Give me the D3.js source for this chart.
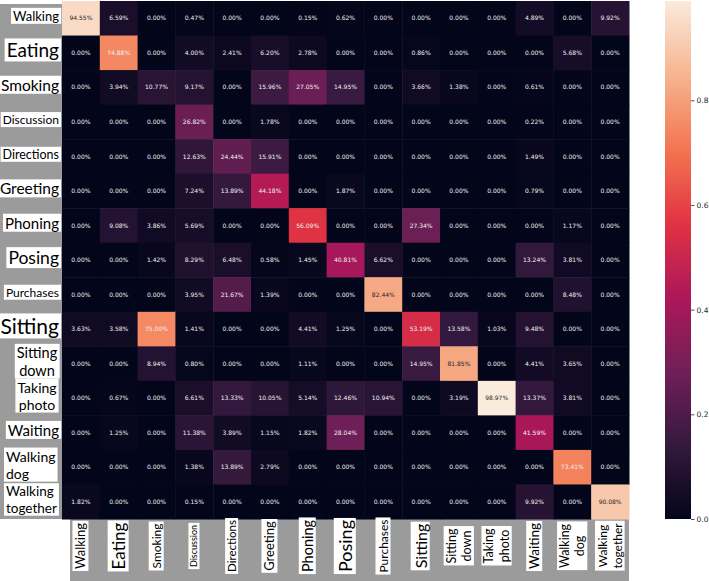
<!DOCTYPE html>
<html>
<head>
<meta charset="utf-8">
<title>Confusion matrix</title>
<script src="https://cdn.jsdelivr.net/npm/d3@7"></script>
<style>
  body { margin: 0; background: #fff; }
  svg { display: block; }
</style>
</head>
<body>
<svg id="chart" width="709" height="581"></svg>
<script>

// action classes, same order for rows (true) and columns (predicted)
const classes = ["Walking", "Eating", "Smoking", "Discussion", "Directions", "Greeting", "Phoning",
  "Posing", "Purchases", "Sitting", "Sitting down", "Taking photo", "Waiting", "Walking dog", "Walking together"];

// cell values in percent
const confusion = [
  [94.55, 6.59, 0.00, 0.47, 0.00, 0.00, 0.15, 0.62, 0.00, 0.00, 0.00, 0.00, 4.89, 0.00, 9.92],
  [0.00, 74.88, 0.00, 4.00, 2.41, 6.20, 2.78, 0.00, 0.00, 0.86, 0.00, 0.00, 0.00, 5.68, 0.00],
  [0.00, 3.94, 10.77, 9.17, 0.00, 15.96, 27.05, 14.95, 0.00, 3.66, 1.38, 0.00, 0.61, 0.00, 0.00],
  [0.00, 0.00, 0.00, 26.82, 0.00, 1.78, 0.00, 0.00, 0.00, 0.00, 0.00, 0.00, 0.22, 0.00, 0.00],
  [0.00, 0.00, 0.00, 12.63, 24.44, 15.91, 0.00, 0.00, 0.00, 0.00, 0.00, 0.00, 1.49, 0.00, 0.00],
  [0.00, 0.00, 0.00, 7.24, 13.89, 44.18, 0.00, 1.87, 0.00, 0.00, 0.00, 0.00, 0.79, 0.00, 0.00],
  [0.00, 9.08, 3.86, 5.69, 0.00, 0.00, 56.09, 0.00, 0.00, 27.34, 0.00, 0.00, 0.00, 1.17, 0.00],
  [0.00, 0.00, 1.42, 8.29, 6.48, 0.58, 1.45, 40.81, 6.62, 0.00, 0.00, 0.00, 13.24, 3.81, 0.00],
  [0.00, 0.00, 0.00, 3.95, 21.67, 1.39, 0.00, 0.00, 82.44, 0.00, 0.00, 0.00, 0.00, 8.48, 0.00],
  [3.63, 3.58, 75.00, 1.41, 0.00, 0.00, 4.41, 1.25, 0.00, 53.19, 13.58, 1.03, 9.48, 0.00, 0.00],
  [0.00, 0.00, 8.94, 0.80, 0.00, 0.00, 1.11, 0.00, 0.00, 14.95, 81.85, 0.00, 4.41, 3.65, 0.00],
  [0.00, 0.67, 0.00, 6.61, 13.33, 10.05, 5.14, 12.46, 10.94, 0.00, 3.19, 98.97, 13.37, 3.81, 0.00],
  [0.00, 1.25, 0.00, 11.38, 3.89, 1.15, 1.82, 28.04, 0.00, 0.00, 0.00, 0.00, 41.59, 0.00, 0.00],
  [0.00, 0.00, 0.00, 1.38, 13.89, 2.79, 0.00, 0.00, 0.00, 0.00, 0.00, 0.00, 0.00, 73.41, 0.00],
  [1.82, 0.00, 0.00, 0.15, 0.00, 0.00, 0.00, 0.00, 0.00, 0.00, 0.00, 0.00, 9.92, 0.00, 90.08]
];

const cbarTicks = [0.0, 0.2, 0.4, 0.6, 0.8];

// label look (the tick labels were pasted in by hand, every one a bit different)
const rowLabelSize  = [13, 19, 15.5, 12, 12.5, 15.5, 15, 17.5, 12, 21, 14.5, 14, 15, 14, 13.5];
const rowLabelAlign = ["end", "end", "end", "end", "end", "end", "end", "end", "end", "end",
  "middle", "middle", "end", "start", "start"];
const colLabelSize  = [13, 17, 12, 9, 11.5, 13, 14.5, 18, 12, 16, 12.5, 12.5, 13.5, 12.5, 12];

// seaborn "rocket"
const rocketStops = ["#03051a", "#35193e", "#701f57", "#ad1759", "#e13342", "#f37651", "#f6b48f", "#faebdd"];
const rocket = d3.scaleLinear()
  .domain(rocketStops.map((c, i) => i / (rocketStops.length - 1)))
  .range(rocketStops)
  .interpolate(d3.interpolateRgb)
  .clamp(true);

const svg = d3.select("#chart");
const hm = { left: 62, right: 629, top: 1, bottom: 519 };

const vmax = d3.max(confusion.flat()) / 100;
const color = v => rocket(v / vmax);

const x = d3.scaleBand().domain(d3.range(classes.length)).range([hm.left, hm.right]);
const y = d3.scaleBand().domain(d3.range(classes.length)).range([hm.top, hm.bottom]);

// seaborn picks dark text on light cells
function lum(c) {
  const rgb = d3.rgb(c);
  const lin = v => { v /= 255; return v <= 0.03928 ? v / 12.92 : Math.pow((v + 0.055) / 1.055, 2.4); };
  return 0.2126 * lin(rgb.r) + 0.7152 * lin(rgb.g) + 0.0722 * lin(rgb.b);
}

// grey backdrops behind the labels
svg.append("rect").attr("x", 0).attr("y", 4).attr("width", hm.left).attr("height", hm.bottom - 4)
  .attr("fill", "#9b9b9b");
svg.append("rect").attr("x", 70).attr("y", hm.bottom).attr("width", hm.right - 70).attr("height", 581 - hm.bottom)
  .attr("fill", "#9b9b9b");

// cells
const cells = [];
confusion.forEach((row, i) => row.forEach((v, j) => cells.push({ i, j, v })));

svg.append("g").selectAll("rect")
  .data(cells)
  .join("rect")
  .attr("x", d => x(d.j))
  .attr("y", d => y(d.i))
  .attr("width", x.bandwidth() + 0.5)
  .attr("height", y.bandwidth() + 0.5)
  .attr("fill", d => color(d.v / 100));

svg.append("g").selectAll("text")
  .data(cells)
  .join("text")
  .attr("x", d => x(d.j) + x.bandwidth() / 2)
  .attr("y", d => y(d.i) + y.bandwidth() / 2)
  .attr("dy", "0.35em")
  .attr("text-anchor", "middle")
  .style("font-family", "DejaVu Sans")
  .style("font-size", "6px")
  .attr("fill", d => lum(color(d.v / 100)) > 0.408 ? "#262626" : "#f2f2f2")
  .text(d => d.v.toFixed(2) + "%");

// labels with white boxes
function boxLabel(g, lines, size, anchor, ax) {
  const lh = size * 1.22;
  const t = g.append("text")
    .attr("text-anchor", anchor)
    .style("font-family", "Lato, 'Open Sans', sans-serif")
    .style("font-size", size + "px")
    .attr("fill", "#000");
  lines.forEach((s, k) => {
    t.append("tspan")
      .attr("x", ax)
      .attr("y", (k - (lines.length - 1) / 2) * lh)
      .attr("dy", "0.35em")
      .text(s);
  });
  const b = t.node().getBBox();
  g.insert("rect", "text")
    .attr("x", b.x - 2).attr("y", b.y)
    .attr("width", b.width + 4).attr("height", b.height)
    .attr("fill", "#fff");
}

classes.forEach((name, i) => {
  const lines = name.split(" ");
  const a = rowLabelAlign[i];
  const ax = a === "end" ? 59 : a === "middle" ? 37 : 6;
  const g = svg.append("g").attr("transform", `translate(0,${y(i) + y.bandwidth() / 2 - 2})`);
  boxLabel(g, lines, rowLabelSize[i], a, ax);
});

classes.forEach((name, j) => {
  const g = svg.append("g")
    .attr("transform", `translate(${x(j) + x.bandwidth() / 2},546) rotate(-90)`);
  boxLabel(g, name.split(" "), colLabelSize[j], "middle", 0);
});

// colour bar
const cb = { x: 665, w: 26 };
const cScale = d3.scaleLinear().domain([0, vmax]).range([hm.bottom, hm.top]);

const grad = svg.append("defs").append("linearGradient")
  .attr("id", "cbar").attr("x1", 0).attr("y1", 1).attr("x2", 0).attr("y2", 0);
grad.selectAll("stop")
  .data(d3.range(0, 1.0001, 0.02))
  .join("stop")
  .attr("offset", d => d)
  .attr("stop-color", d => rocket(d));

svg.append("rect")
  .attr("x", cb.x).attr("y", hm.top)
  .attr("width", cb.w).attr("height", hm.bottom - hm.top)
  .attr("fill", "url(#cbar)");

const cAxis = svg.append("g")
  .attr("transform", `translate(${cb.x + cb.w},0)`)
  .call(d3.axisRight(cScale).tickValues(cbarTicks).tickSize(3.5).tickPadding(2).tickFormat(d3.format(".1f")));
cAxis.select(".domain").remove();
cAxis.selectAll("line").attr("stroke", "#262626").attr("stroke-width", 0.8);
cAxis.selectAll("text")
  .style("font-family", "DejaVu Sans")
  .style("font-size", "7.5px")
  .attr("fill", "#262626");

</script>
</body>
</html>
